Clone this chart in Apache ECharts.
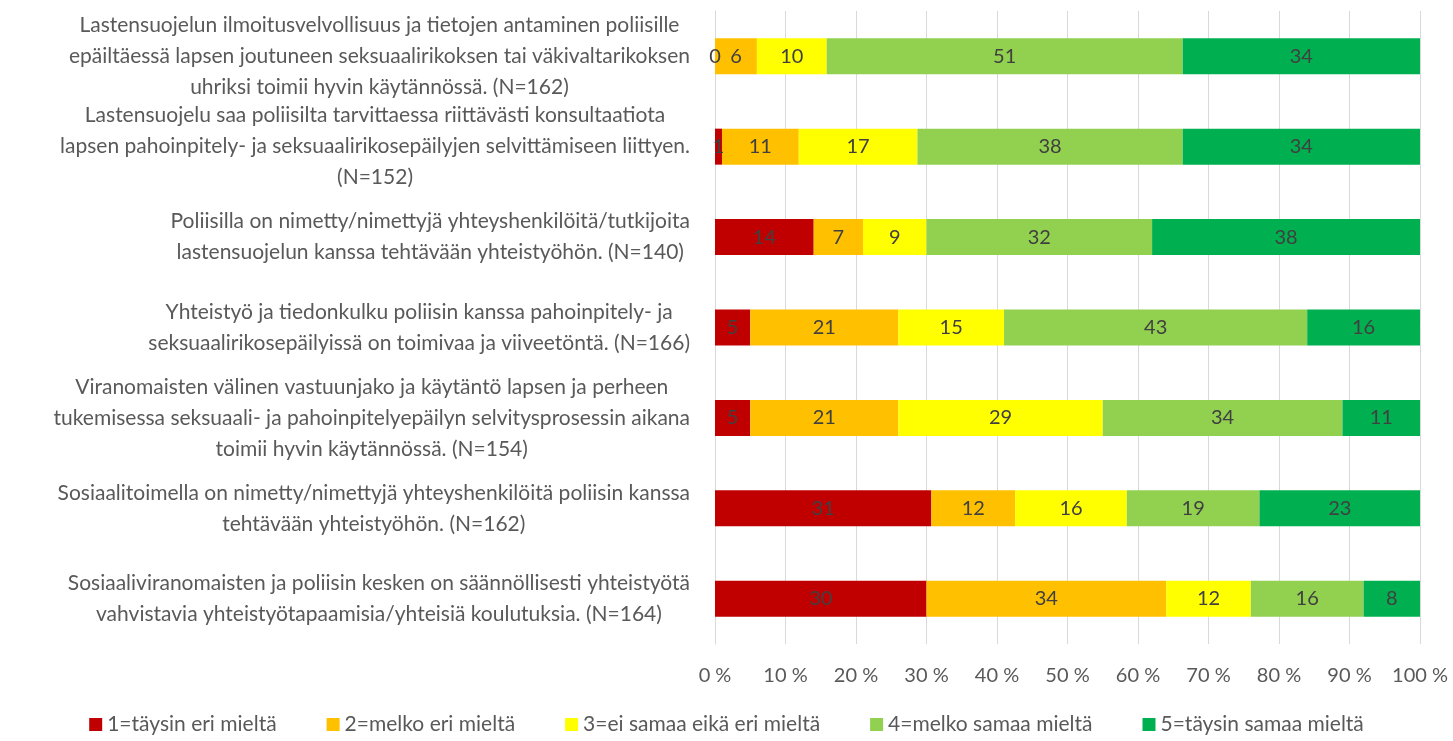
<!DOCTYPE html>
<html>
<head>
<meta charset="utf-8">
<title>Yhteistyö poliisin kanssa</title>
<script src="https://cdn.jsdelivr.net/npm/echarts@6.0.0/dist/echarts.min.js"></script>
<style>
  html, body { margin: 0; padding: 0; background: #fff; }
  #chart { width: 1453px; height: 741px; }
</style>
</head>
<body>
<div id="chart"></div>
<script>
// väittämät (rivit ylhäältä alas)
var categories = [
  'Lastensuojelun ilmoitusvelvollisuus ja tietojen antaminen poliisille\nepäiltäessä lapsen joutuneen seksuaalirikoksen tai väkivaltarikoksen\nuhriksi toimii hyvin käytännössä. (N=162)',
  'Lastensuojelu saa poliisilta tarvittaessa riittävästi konsultaatiota\nlapsen pahoinpitely- ja seksuaalirikosepäilyjen selvittämiseen liittyen.\n(N=152)',
  'Poliisilla on nimetty/nimettyjä yhteyshenkilöitä/tutkijoita\nlastensuojelun kanssa tehtävään yhteistyöhön. (N=140)',
  'Yhteistyö ja tiedonkulku poliisin kanssa pahoinpitely- ja\nseksuaalirikosepäilyissä on toimivaa ja viiveetöntä. (N=166)',
  'Viranomaisten välinen vastuunjako ja käytäntö lapsen ja perheen\ntukemisessa seksuaali- ja pahoinpitelyepäilyn selvitysprosessin aikana\ntoimii hyvin käytännössä. (N=154)',
  'Sosiaalitoimella on nimetty/nimettyjä yhteyshenkilöitä poliisin kanssa\ntehtävään yhteistyöhön. (N=162)',
  'Sosiaaliviranomaisten ja poliisin kesken on säännöllisesti yhteistyötä\nvahvistavia yhteistyötapaamisia/yhteisiä koulutuksia. (N=164)'
]

var seriesNames = [
  '1=täysin eri mieltä',
  '2=melko eri mieltä',
  '3=ei samaa eikä eri mieltä',
  '4=melko samaa mieltä',
  '5=täysin samaa mieltä'
]
var colors = ['#C00000', '#FFC000', '#FFFF00', '#92D050', '#00B050']

// prosenttiosuudet kuvasta
var tEri = [0, 1, 14, 5, 5, 31, 30]
var mEri = [6, 11, 7, 21, 21, 12, 34]
var eiSamaa = [10, 17, 9, 15, 29, 16, 12]
var mSamaa = [51, 38, 32, 43, 34, 19, 16]
var tSamaa = [34, 34, 38, 16, 11, 23, 8]

var xTicks = [0, 10, 20, 30, 40, 50, 60, 70, 80, 90, 100]

var raw = [tEri, mEri, eiSamaa, mSamaa, tSamaa]
var fontFam = 'Lato, "Open Sans", sans-serif'

// 100 % pinotut palkit: jokainen rivi skaalataan summaansa
var rowSum = categories.map(function (c, i) {
  return raw.reduce(function (s, arr) { return s + arr[i] }, 0)
})

var series = raw.map(function (arr, k) {
  return {
    name: seriesNames[k],
    type: 'bar',
    stack: 'all',
    barWidth: 36,
    itemStyle: { color: colors[k] },
    label: {
      show: true,
      position: 'inside',
      color: '#404040',
      fontFamily: fontFam,
      fontSize: 20,
      formatter: function (p) { return String(arr[p.dataIndex]) }
    },
    data: arr.map(function (v, i) { return v / rowSum[i] * 100 })
  }
})

var chart = echarts.init(document.getElementById('chart'))
var option = {
  animation: false,
  color: colors,
  grid: { left: 715, right: 33, top: 11, bottom: 97 },
  legend: {
    bottom: 1,
    left: 'center',
    icon: 'rect',
    itemWidth: 13,
    itemHeight: 13,
    itemGap: 50,
    textStyle: { color: '#595959', fontFamily: fontFam, fontSize: 21 },
    data: seriesNames
  },
  xAxis: {
    type: 'value',
    min: xTicks[0],
    max: xTicks[xTicks.length - 1],
    interval: 10,
    axisLine: { show: false },
    axisTick: { show: false },
    splitLine: { lineStyle: { color: '#d9d9d9', width: 1 } },
    axisLabel: {
      color: '#595959',
      fontFamily: fontFam,
      fontSize: 20,
      margin: 22,
      formatter: '{value} %'
    }
  },
  yAxis: {
    type: 'category',
    inverse: true,
    data: categories,
    axisLine: { show: true, lineStyle: { color: '#d9d9d9' } },
    axisTick: { show: false },
    axisLabel: {
      margin: 25,
      formatter: function (v) {
        return v.split('\n').map(function (l) { return '{a|' + l + '}' }).join('\n')
      },
      rich: {
        a: {
          align: 'center',
          color: '#595959',
          fontFamily: fontFam,
          fontSize: 21,
          lineHeight: 31
        }
      }
    }
  },
  series: series
}
chart.setOption(option)
</script>
</body>
</html>
